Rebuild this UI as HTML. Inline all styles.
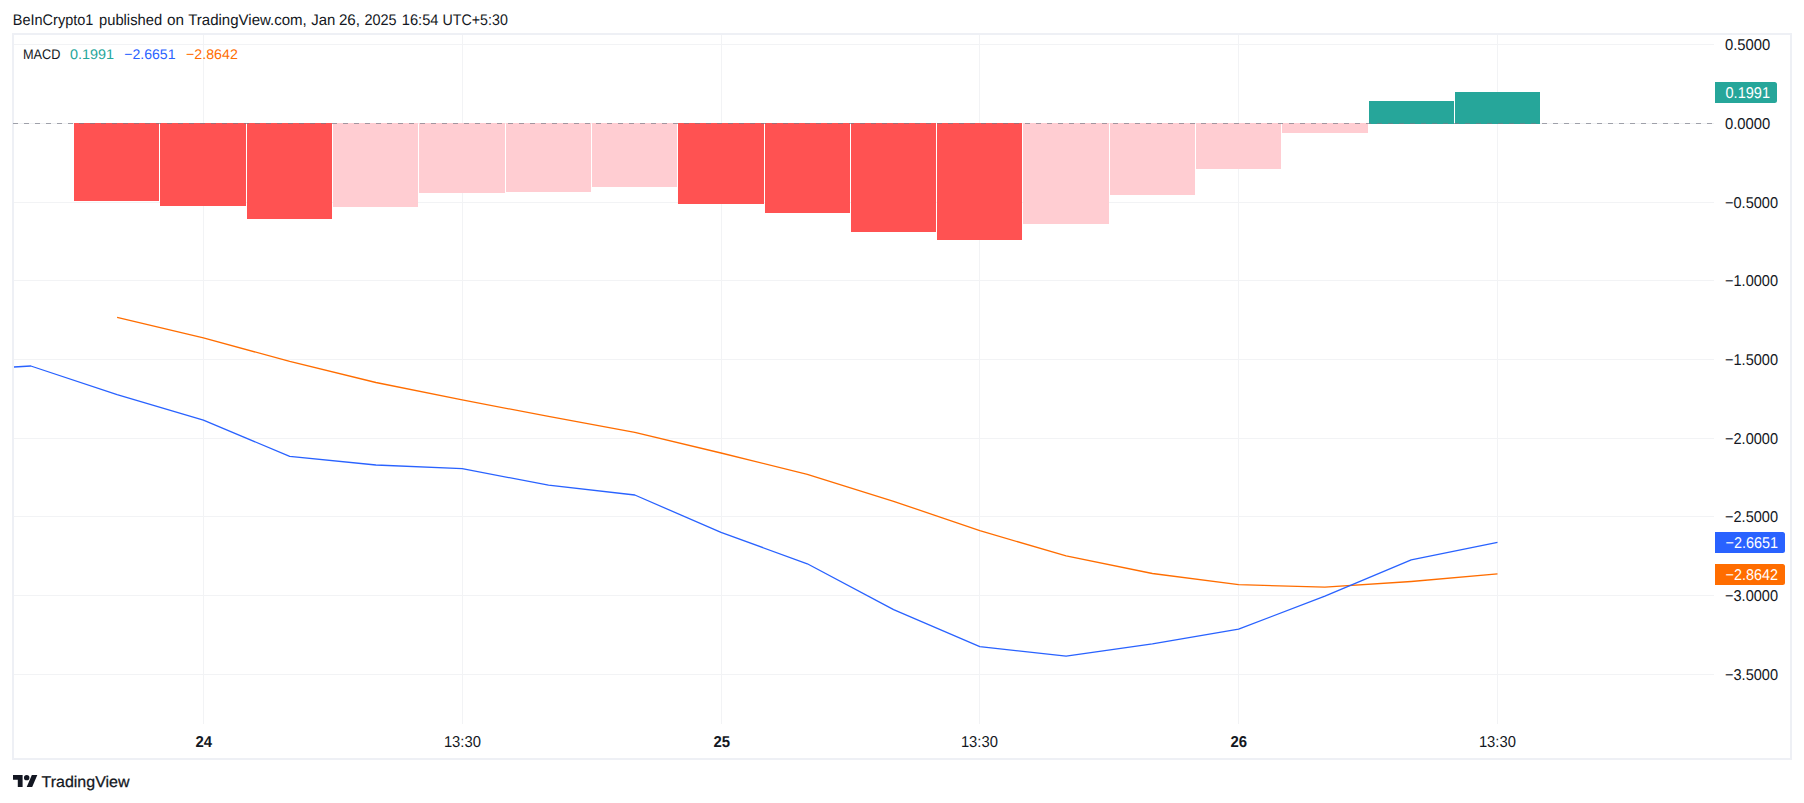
<!DOCTYPE html>
<html lang="en">
<head>
<meta charset="utf-8">
<title>MACD chart - TradingView</title>
<style>
html,body{margin:0;padding:0;background:#fff;}
body{width:1804px;height:803px;overflow:hidden;position:relative;font-family:"Liberation Sans","DejaVu Sans",sans-serif;color:#131722;}
#frame{position:absolute;left:12px;top:33px;width:1776px;height:723px;border:2px solid #eef0f5;box-sizing:content-box;}
svg{position:absolute;left:0;top:0;}
text{text-rendering:geometricPrecision;font-family:"Liberation Sans","DejaVu Sans",sans-serif;}
.ax{font-size:15.6px;fill:#131722;}
.tg{font-size:15.6px;fill:#ffffff;}
.hd{font-size:15.4px;fill:#131722;}
.lg{font-size:14px;}
.tm{font-size:15.8px;fill:#131722;text-anchor:middle;}
.tmb{font-size:15.8px;fill:#131722;text-anchor:middle;font-weight:bold;}
.tv{font-size:15.6px;fill:#131722;stroke:#131722;stroke-width:0.25px;}
</style>
</head>
<body>
<div id="frame"></div>
<svg width="1804" height="803" viewBox="0 0 1804 803">

<g shape-rendering="crispEdges" fill="#f2f3f5">
<rect x="14" y="44" width="1700" height="1"/>
<rect x="14" y="123" width="1700" height="1"/>
<rect x="14" y="202" width="1700" height="1"/>
<rect x="14" y="280" width="1700" height="1"/>
<rect x="14" y="359" width="1700" height="1"/>
<rect x="14" y="438" width="1700" height="1"/>
<rect x="14" y="516" width="1700" height="1"/>
<rect x="14" y="595" width="1700" height="1"/>
<rect x="14" y="674" width="1700" height="1"/>
<rect x="203" y="35" width="1" height="689"/>
<rect x="462" y="35" width="1" height="689"/>
<rect x="721" y="35" width="1" height="689"/>
<rect x="979" y="35" width="1" height="689"/>
<rect x="1238" y="35" width="1" height="689"/>
<rect x="1497" y="35" width="1" height="689"/>
</g>
<g shape-rendering="crispEdges">
<rect x="74" y="123" width="85" height="78" fill="#ff5252"/>
<rect x="160" y="123" width="86" height="83" fill="#ff5252"/>
<rect x="247" y="123" width="85" height="96" fill="#ff5252"/>
<rect x="333" y="123" width="85" height="84" fill="#ffcdd2"/>
<rect x="419" y="123" width="86" height="70" fill="#ffcdd2"/>
<rect x="506" y="123" width="85" height="69" fill="#ffcdd2"/>
<rect x="592" y="123" width="85" height="64" fill="#ffcdd2"/>
<rect x="678" y="123" width="86" height="81" fill="#ff5252"/>
<rect x="765" y="123" width="85" height="90" fill="#ff5252"/>
<rect x="851" y="123" width="85" height="109" fill="#ff5252"/>
<rect x="937" y="123" width="85" height="117" fill="#ff5252"/>
<rect x="1023" y="123" width="86" height="101" fill="#ffcdd2"/>
<rect x="1110" y="123" width="85" height="72" fill="#ffcdd2"/>
<rect x="1196" y="123" width="85" height="46" fill="#ffcdd2"/>
<rect x="1282" y="123" width="86" height="10" fill="#ffcdd2"/>
<rect x="1369" y="101" width="85" height="23" fill="#26a69a"/>
<rect x="1455" y="92" width="85" height="32" fill="#26a69a"/>
</g>
<line x1="13" y1="123.5" x2="1714" y2="123.5" stroke="#787b86" stroke-opacity="0.68" stroke-width="1" stroke-dasharray="5 6" shape-rendering="crispEdges"/>
<polyline points="117.1,317.3 203.4,337.9 289.7,361.4 375.9,382.5 462.2,399.9 548.5,416.4 634.8,432.3 721.0,453.0 807.3,474.3 893.6,501.3 979.8,530.7 1066.1,555.9 1152.4,573.5 1238.6,584.6 1324.9,587.2 1411.2,581.5 1497.5,573.9" fill="none" stroke="#ff6d00" stroke-width="1.3" stroke-linejoin="round"/>
<polyline points="14,367.0 30.8,366.0 117.1,394.6 203.4,420.2 289.7,456.3 375.9,465.0 462.2,468.7 548.5,485.2 634.8,495.0 721.0,532.4 807.3,563.8 893.6,609.6 979.8,646.7 1066.1,656.2 1152.4,643.9 1238.6,629.1 1324.9,596.2 1411.2,559.9 1497.5,542.4" fill="none" stroke="#2962ff" stroke-width="1.3" stroke-linejoin="round"/>
<text class="ax" x="1725" y="50.1" textLength="45.3" lengthAdjust="spacingAndGlyphs">0.5000</text>
<text class="ax" x="1725" y="128.8" textLength="45.3" lengthAdjust="spacingAndGlyphs">0.0000</text>
<text class="ax" x="1725" y="207.5" textLength="53" lengthAdjust="spacingAndGlyphs">−0.5000</text>
<text class="ax" x="1725" y="286.2" textLength="53" lengthAdjust="spacingAndGlyphs">−1.0000</text>
<text class="ax" x="1725" y="364.9" textLength="53" lengthAdjust="spacingAndGlyphs">−1.5000</text>
<text class="ax" x="1725" y="443.6" textLength="53" lengthAdjust="spacingAndGlyphs">−2.0000</text>
<text class="ax" x="1725" y="522.3" textLength="53" lengthAdjust="spacingAndGlyphs">−2.5000</text>
<text class="ax" x="1725" y="601.0" textLength="53" lengthAdjust="spacingAndGlyphs">−3.0000</text>
<text class="ax" x="1725" y="679.7" textLength="53" lengthAdjust="spacingAndGlyphs">−3.5000</text>
<path d="M1715 82H1774.5Q1777 82 1777 84.5V100.5Q1777 103 1774.5 103H1715Z" fill="#26a69a"/>
<text class="tg" x="1725.5" y="97.9" textLength="44.5" lengthAdjust="spacingAndGlyphs">0.1991</text>
<path d="M1715 532H1782.5Q1785 532 1785 534.5V550.5Q1785 553 1782.5 553H1715Z" fill="#2962ff"/>
<text class="tg" x="1725.5" y="547.9" textLength="52.5" lengthAdjust="spacingAndGlyphs">−2.6651</text>
<path d="M1715 564H1782.5Q1785 564 1785 566.5V582.5Q1785 585 1782.5 585H1715Z" fill="#ff6d00"/>
<text class="tg" x="1725.5" y="579.9" textLength="52.5" lengthAdjust="spacingAndGlyphs">−2.8642</text>
<text class="tmb" x="203.7" y="746.8" textLength="16.6" lengthAdjust="spacingAndGlyphs">24</text>
<text class="tm" x="462.4" y="746.8" textLength="37" lengthAdjust="spacingAndGlyphs">13:30</text>
<text class="tmb" x="721.7" y="746.8" textLength="16.6" lengthAdjust="spacingAndGlyphs">25</text>
<text class="tm" x="979.4" y="746.8" textLength="37" lengthAdjust="spacingAndGlyphs">13:30</text>
<text class="tmb" x="1238.7" y="746.8" textLength="16.6" lengthAdjust="spacingAndGlyphs">26</text>
<text class="tm" x="1497.4" y="746.8" textLength="37" lengthAdjust="spacingAndGlyphs">13:30</text>
<text class="hd" y="24.5"><tspan x="12.8" textLength="80.6" lengthAdjust="spacingAndGlyphs">BeInCrypto1</tspan> <tspan x="99.0" textLength="63.1" lengthAdjust="spacingAndGlyphs">published</tspan> <tspan x="167.0" textLength="17.0" lengthAdjust="spacingAndGlyphs">on</tspan> <tspan x="188.2" textLength="118.6" lengthAdjust="spacingAndGlyphs">TradingView.com,</tspan> <tspan x="311.2" textLength="24.1" lengthAdjust="spacingAndGlyphs">Jan</tspan> <tspan x="338.9" textLength="21.1" lengthAdjust="spacingAndGlyphs">26,</tspan> <tspan x="364.4" textLength="32.2" lengthAdjust="spacingAndGlyphs">2025</tspan> <tspan x="401.8" textLength="36.7" lengthAdjust="spacingAndGlyphs">16:54</tspan> <tspan x="442.5" textLength="65.3" lengthAdjust="spacingAndGlyphs">UTC+5:30</tspan></text>
<text class="lg" x="22.9" y="58.6" fill="#131722" textLength="37.5" lengthAdjust="spacingAndGlyphs">MACD</text>
<text class="lg" x="70" y="58.6" fill="#26a69a" textLength="44" lengthAdjust="spacingAndGlyphs">0.1991</text>
<text class="lg" x="124.2" y="58.6" fill="#2962ff" textLength="51.3" lengthAdjust="spacingAndGlyphs">−2.6651</text>
<text class="lg" x="186" y="58.6" fill="#ff6d00" textLength="51.8" lengthAdjust="spacingAndGlyphs">−2.8642</text>
<g transform="translate(13,772.33) scale(0.685,0.6667)" fill="#131722"><path d="M14 22H7V11H0V4h14v18zM28 22h-8l7.5-18h8L28 22z"/><circle cx="20" cy="8" r="4"/></g>
<text class="tv" x="41.5" y="786.7" textLength="88" lengthAdjust="spacingAndGlyphs">TradingView</text>
</svg>
</body>
</html>
